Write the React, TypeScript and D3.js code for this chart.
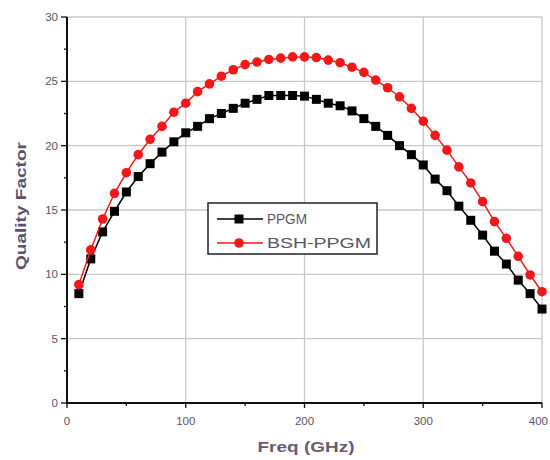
import React from "react";
import * as d3 from "d3";

const freqs = [10,20,30,40,50,60,70,80,90,100,110,120,130,140,150,160,170,180,190,200,210,220,230,240,250,260,270,280,290,300,310,320,330,340,350,360,370,380,390,400];
const ppgm = [8.5,11.2,13.3,14.9,16.4,17.6,18.6,19.5,20.3,21.0,21.5,22.1,22.5,22.9,23.3,23.6,23.9,23.9,23.9,23.85,23.6,23.3,23.1,22.7,22.1,21.5,20.8,20.0,19.3,18.5,17.4,16.5,15.3,14.2,13.05,11.8,10.8,9.55,8.5,7.3];
const bsh = [9.2,11.9,14.3,16.3,17.9,19.3,20.5,21.5,22.6,23.3,24.2,24.8,25.4,25.9,26.3,26.5,26.7,26.8,26.9,26.9,26.85,26.65,26.45,26.1,25.7,25.1,24.5,23.8,22.9,21.9,20.8,19.65,18.35,17.1,15.65,14.1,12.8,11.4,9.95,8.65];
const xTicks = [0,100,200,300,400];
const xMinor = [50,150,250,350];
const yTicks = [0,5,10,15,20,25,30];
const yMinor = [2.5,7.5,12.5,17.5,22.5,27.5];
const seriesNames = ["PPGM","BSH-PPGM"];

export default function App() {
  const W = 550, H = 460;
  const x = d3.scaleLinear().domain([0,400]).range([67,542]);
  const y = d3.scaleLinear().domain([0,30]).range([403,17]);
  const line = d3.line<[number,number]>().x(d=>x(d[0])).y(d=>y(d[1]));
  const pData: [number,number][] = freqs.map((f,i)=>[f,ppgm[i]]);
  const bData: [number,number][] = freqs.map((f,i)=>[f,bsh[i]]);
  const textColor = "#5a5468";
  const font = "Arial, 'Liberation Sans', sans-serif";
  return (
    <svg width={W} height={H} style={{position:"absolute",left:0,top:0,background:"#fff"}}>
      <rect x={0} y={0} width={W} height={H} fill="#fff"/>
      {xTicks.slice(1).map(t=>(
        <line key={"gx"+t} x1={x(t)} x2={x(t)} y1={y(0)} y2={y(30)} stroke="#c8c8c8" strokeWidth={1.3}/>
      ))}
      {yTicks.slice(1).map(t=>(
        <line key={"gy"+t} x1={x(0)} x2={x(400)} y1={y(t)} y2={y(t)} stroke="#c8c8c8" strokeWidth={1.3}/>
      ))}
      <line x1={x(0)} x2={x(0)} y1={y(0)+1} y2={y(30)} stroke="#111" strokeWidth={2}/>
      <line x1={x(0)-1} x2={x(400)} y1={y(0)} y2={y(0)} stroke="#111" strokeWidth={2}/>
      {yTicks.map(t=>(
        <g key={"yt"+t}>
          <line x1={x(0)-6} x2={x(0)} y1={y(t)} y2={y(t)} stroke="#111" strokeWidth={1.3}/>
          <text x={x(0)-9} y={y(t)} dy="0.35em" textAnchor="end" fontSize={11.5} fill={textColor} fontFamily={font}>{t}</text>
        </g>
      ))}
      {yMinor.map(t=>(
        <line key={"ym"+t} x1={x(0)-3} x2={x(0)} y1={y(t)} y2={y(t)} stroke="#111" strokeWidth={1.3}/>
      ))}
      {xTicks.map((t,i)=>{
        const last = i === xTicks.length-1;
        return (
          <g key={"xt"+t}>
            <line x1={x(t)} x2={x(t)} y1={y(0)} y2={y(0)+5} stroke="#111" strokeWidth={1.3}/>
            <text x={last ? W-2 : x(t)} y={y(0)+22} textAnchor={last ? "end" : "middle"} fontSize={11.5} fill={textColor} fontFamily={font}>{t}</text>
          </g>
        );
      })}
      {xMinor.map(t=>(
        <line key={"xm"+t} x1={x(t)} x2={x(t)} y1={y(0)} y2={y(0)+3} stroke="#111" strokeWidth={1.3}/>
      ))}
      <path d={line(pData) || ""} fill="none" stroke="#000" strokeWidth={1.5}/>
      {pData.map((d,i)=>(
        <rect key={"p"+i} x={x(d[0])-4.5} y={y(d[1])-4.5} width={9} height={9} fill="#000"/>
      ))}
      <path d={line(bData) || ""} fill="none" stroke="#f01818" strokeWidth={1.5}/>
      {bData.map((d,i)=>(
        <circle key={"b"+i} cx={x(d[0])} cy={y(d[1])} r={4.8} fill="#f01818"/>
      ))}
      <rect x={208} y={203} width={169} height={51} fill="#fff" stroke="#222" strokeWidth={1.5}/>
      <line x1={217} x2={263} y1={219} y2={219} stroke="#000" strokeWidth={1.5}/>
      <rect x={234.5} y={214.5} width={9} height={9} fill="#000"/>
      <text x={267} y={219} dy="0.36em" fontSize={15} fill={textColor} fontFamily={font} textLength={40} lengthAdjust="spacingAndGlyphs">{seriesNames[0]}</text>
      <line x1={217} x2={263} y1={243} y2={243} stroke="#f01818" strokeWidth={1.5}/>
      <circle cx={239} cy={243} r={4.8} fill="#f01818"/>
      <text x={267} y={243} dy="0.36em" fontSize={15} fill={textColor} fontFamily={font} textLength={104} lengthAdjust="spacingAndGlyphs">{seriesNames[1]}</text>
      <text x={306} y={452} textAnchor="middle" fontSize={15} fontWeight="bold" fill="#6a5a72" fontFamily={font} textLength={97} lengthAdjust="spacingAndGlyphs">Freq (GHz)</text>
      <text transform={`translate(26,${206}) rotate(-90)`} textAnchor="middle" fontSize={15} fontWeight="bold" fill="#5a5468" fontFamily={font} textLength={128} lengthAdjust="spacingAndGlyphs">Quality Factor</text>
    </svg>
  );
}
